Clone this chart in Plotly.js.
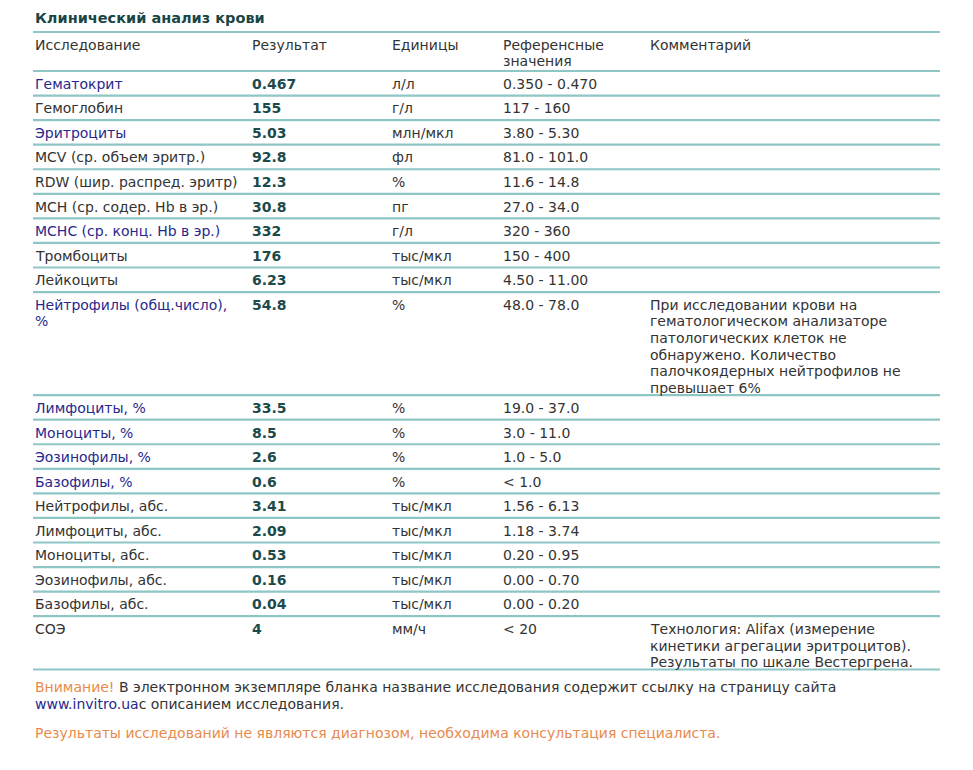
<!DOCTYPE html>
<html>
<head>
<meta charset="utf-8">
<script src="https://cdn.plot.ly/plotly-3.0.1.min.js"></script>
<style>html,body{margin:0;padding:0;background:#fff}</style>
</head>
<body>
<div id="chart" style="width:973px;height:770px"></div>
<script>
// table content
const title = 'Клинический анализ крови';
const headers = ['Исследование', 'Результат', 'Единицы', 'Референсные\nзначения', 'Комментарий'];
const names = [
  'Гематокрит', 'Гемоглобин', 'Эритроциты', 'MCV (ср. объем эритр.)', 'RDW (шир. распред. эритр)',
  'MCH (ср. содер. Hb в эр.)', 'MCHC (ср. конц. Hb в эр.)', 'Тромбоциты', 'Лейкоциты',
  'Нейтрофилы (общ.число),\n%', 'Лимфоциты, %', 'Моноциты, %', 'Эозинофилы, %', 'Базофилы, %',
  'Нейтрофилы, абс.', 'Лимфоциты, абс.', 'Моноциты, абс.', 'Эозинофилы, абс.', 'Базофилы, абс.', 'СОЭ'
];
const isLink = [1,0,1,0,0,0,1,0,0,1,1,1,1,1,0,0,0,0,0,0];
const results = ['0.467','155','5.03','92.8','12.3','30.8','332','176','6.23','54.8','33.5','8.5','2.6','0.6','3.41','2.09','0.53','0.16','0.04','4'];
const units = ['л/л','г/л','млн/мкл','фл','%','пг','г/л','тыс/мкл','тыс/мкл','%','%','%','%','%','тыс/мкл','тыс/мкл','тыс/мкл','тыс/мкл','тыс/мкл','мм/ч'];
const refs = ['0.350 - 0.470','117 - 160','3.80 - 5.30','81.0 - 101.0','11.6 - 14.8','27.0 - 34.0','320 - 360','150 - 400','4.50 - 11.00',
  '48.0 - 78.0','19.0 - 37.0','3.0 - 11.0','1.0 - 5.0','< 1.0','1.56 - 6.13','1.18 - 3.74','0.20 - 0.95','0.00 - 0.70','0.00 - 0.20','< 20'];
const comments = ['','','','','','','','','',
  'При исследовании крови на\nгематологическом анализаторе\nпатологических клеток не\nобнаружено. Количество\nпалочкоядерных нейтрофилов не\nпревышает 6%',
  '','','','','','','','','',
  'Технология: Alifax (измерение\nкинетики агрегации эритроцитов).\nРезультаты по шкале Вестергрена.'];
const footNote1 = ['Внимание!', ' В электронном экземпляре бланка название исследования содержит ссылку на страницу сайта'];
const footNote2 = ['www.invitro.ua', 'c описанием исследования.'];
const footNote3 = 'Результаты исследований не являются диагнозом, необходима консультация специалиста.';

const FONT = 'DejaVu Sans';
const cText = '#333333', cLink = '#28288c', cValue = '#1b4a4a', cTitle = '#1a4646', cOrange = '#e88a4c', cRule = '#8ec6c6';
const colX = [33, 250, 390, 501, 648];
const lineX0 = 33, lineX1 = 940;
const rowMin = 24.56, lineStep = 16.6;

const esc = s => s.replace(/</g, '&lt;');
const ann = [];
function put(x, y, text, color, bold, size) {
  ann.push({
    x: x, y: y, xref: 'x', yref: 'y', showarrow: false, xanchor: 'left', yanchor: 'middle',
    text: bold ? '<b>' + text + '</b>' : text,
    font: {family: FONT, size: size || 14, color: color}
  });
}
function putLines(x, y0, text, color, bold) {
  text.split('\n').forEach((t, i) => put(x, y0 + 12.8 + i * lineStep, esc(t), color, bold));
}

const ruleX = [], ruleY = [];
function rule(y) { ruleX.push(lineX0, lineX1, null); ruleY.push(y, y, null); }

put(colX[0], 18, title, cTitle, true, 14.5);
let rowTop = 32;
rule(rowTop);
headers.forEach((h, i) => putLines(colX[i], rowTop, h, cText, false));
rowTop = 71;
rule(rowTop);
names.forEach((n, i) => {
  const nl = Math.max(n.split('\n').length, comments[i] ? comments[i].split('\n').length : 1);
  const h = Math.max(rowMin, nl * lineStep + 3.5);
  putLines(colX[0], rowTop, n, isLink[i] ? cLink : cText, false);
  putLines(colX[1], rowTop, results[i], cValue, true);
  putLines(colX[2], rowTop, units[i], cText, false);
  putLines(colX[3], rowTop, refs[i], cText, false);
  if (comments[i]) putLines(colX[4], rowTop, comments[i], cText, false);
  rowTop += h;
  rule(rowTop);
});

put(colX[0], rowTop + 18, '<span style="color:' + cOrange + '">' + footNote1[0] + '</span>' + footNote1[1], cText, false);
put(colX[0], rowTop + 35, '<span style="color:' + cLink + '">' + footNote2[0] + '</span>' + footNote2[1], cText, false);
put(colX[0], rowTop + 64, footNote3, cOrange, false);

const rules = {
  x: ruleX, y: ruleY, type: 'scatter', mode: 'lines', hoverinfo: 'skip',
  line: {color: cRule, width: 2.2}
};
const hidden = {visible: false, fixedrange: true};
const layout = {
  width: 973, height: 770,
  margin: {l: 0, r: 0, t: 0, b: 0},
  paper_bgcolor: '#ffffff', plot_bgcolor: '#ffffff',
  showlegend: false,
  xaxis: Object.assign({range: [0, 973]}, hidden),
  yaxis: Object.assign({range: [770, 0]}, hidden),
  annotations: ann
};
Plotly.newPlot('chart', [rules], layout, {displayModeBar: false, staticPlot: true});
</script>
</body>
</html>
